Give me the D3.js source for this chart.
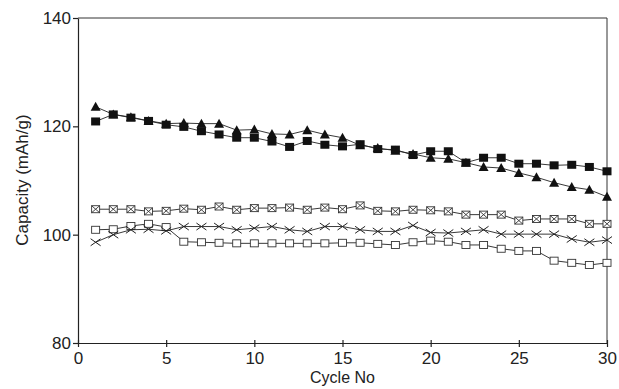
<!DOCTYPE html>
<meta charset="utf-8">
<style>
body { margin: 0; background: #fff; }
svg text { font-family: "Liberation Sans", Arial, sans-serif; fill: #222; }
.axis path, .axis line { stroke: #222; stroke-width: 1.2; }
</style>
<body>
<div id="chart"></div>
<script src="https://d3js.org/d3.v7.min.js"></script>
<script>
// cycle numbers 1..30
var cycles = [1,2,3,4,5,6,7,8,9,10,11,12,13,14,15,16,17,18,19,20,21,22,23,24,25,26,27,28,29,30]

var filledSquare = [120.9,122.2,121.6,121.0,120.3,119.9,119.1,118.5,117.9,117.9,117.2,116.2,117.3,116.6,116.3,116.7,115.8,115.7,114.7,115.4,115.4,113.3,114.2,114.2,113.1,113.1,112.8,112.9,112.5,111.7]
var filledTriangle = [123.6,122.2,121.7,121.0,120.5,120.6,120.5,120.5,119.3,119.4,118.6,118.5,119.3,118.5,117.9,116.5,116.0,115.5,114.9,114.2,114.0,113.3,112.5,112.3,111.4,110.6,109.6,108.8,108.3,107.0]
var bowtie = [104.7,104.7,104.7,104.3,104.4,104.8,104.6,105.2,104.6,104.9,104.9,105.0,104.6,105.0,104.7,105.4,104.4,104.3,104.6,104.5,104.3,103.7,103.7,103.7,102.6,102.9,102.9,102.9,102.0,102.0]
var cross = [98.6,100.0,100.9,101.0,100.7,101.5,101.5,101.5,100.9,101.2,101.5,100.9,100.6,101.5,101.5,100.9,100.6,100.6,101.7,100.4,100.3,100.6,100.9,100.1,100.1,100.1,100.1,99.2,98.6,99.0]
var openSquare = [100.9,101.0,101.6,102.0,101.4,98.7,98.6,98.5,98.4,98.4,98.4,98.4,98.4,98.4,98.5,98.5,98.3,98.1,98.6,98.9,98.7,98.1,98.1,97.4,97.0,97.0,95.2,94.8,94.4,94.8]

var xTicks = [0,5,10,15,20,25,30]
var yTicks = [80,100,120,140]

var series = [
    { name: 'openSquare', values: openSquare, marker: 'openSquare' },
    { name: 'cross', values: cross, marker: 'cross' },
    { name: 'bowtie', values: bowtie, marker: 'bowtie' },
    { name: 'filledTriangle', values: filledTriangle, marker: 'triangle' },
    { name: 'filledSquare', values: filledSquare, marker: 'square' }
]

var margin = { top: 18, right: 12, bottom: 46, left: 78 }
var width = 619 - margin.left - margin.right
var height = 389 - margin.top - margin.bottom

var svg = d3.select('#chart').append('svg')
    .attr('width', 619)
    .attr('height', 389)
var g = svg.append('g')
    .attr('transform', 'translate(' + margin.left + ',' + margin.top + ')')

var x = d3.scaleLinear().domain([0, 30]).range([0, width])
var y = d3.scaleLinear().domain([80, 140]).range([height, 0])

// frame top and right
g.append('line').attr('x1', 0).attr('x2', width).attr('y1', 0).attr('y2', 0)
    .style('stroke', '#333').style('stroke-width', 1)
g.append('line').attr('x1', width).attr('x2', width).attr('y1', 0).attr('y2', height)
    .style('stroke', '#333').style('stroke-width', 1)

var gx = g.append('g').attr('class', 'axis')
    .attr('transform', 'translate(0,' + height + ')')
    .call(d3.axisBottom(x).tickValues(xTicks).tickSize(4).tickSizeOuter(0).tickPadding(5))
gx.selectAll('.tick line').attr('y1', -3)
gx.selectAll('text').style('font-size', '17px')

var gy = g.append('g').attr('class', 'axis')
    .call(d3.axisLeft(y).tickValues(yTicks).tickSize(5).tickSizeOuter(0).tickPadding(2))
gy.selectAll('text').style('font-size', '17px')

g.append('text')
    .attr('x', width / 2)
    .attr('y', height + 40)
    .style('text-anchor', 'middle')
    .style('font-size', '16px')
    .text('Cycle No')

g.append('text')
    .attr('transform', 'rotate(-90)')
    .attr('x', -162)
    .attr('y', -50)
    .style('text-anchor', 'middle')
    .style('font-size', '17px')
    .text('Capacity (mAh/g)')

var line = d3.line()
    .x(function (d, i) { return x(cycles[i]) })
    .y(function (d) { return y(d) })

series.forEach(function (s) {
    g.append('path')
        .datum(s.values)
        .attr('d', line)
        .style('fill', 'none')
        .style('stroke', '#222')
        .style('stroke-width', 0.9)

    var pts = g.append('g').selectAll('g')
        .data(s.values)
        .enter().append('g')
        .attr('transform', function (d, i) { return 'translate(' + x(cycles[i]) + ',' + y(d) + ')' })

    if (s.marker === 'square') {
        pts.append('rect').attr('x', -4.5).attr('y', -4).attr('width', 9).attr('height', 8)
            .style('fill', '#111')
    } else if (s.marker === 'triangle') {
        pts.append('path').attr('d', 'M0,-5L5,4L-5,4Z').style('fill', '#111')
    } else if (s.marker === 'openSquare') {
        pts.append('rect').attr('x', -4).attr('y', -3.5).attr('width', 8).attr('height', 7)
            .style('fill', '#fff').style('stroke', '#333').style('stroke-width', 0.9)
    } else if (s.marker === 'bowtie') {
        pts.append('rect').attr('x', -4).attr('y', -3.5).attr('width', 8).attr('height', 7)
            .style('fill', '#fff').style('stroke', '#333').style('stroke-width', 0.9)
        pts.append('path').attr('d', 'M-4,-3.5L4,3.5M-4,3.5L4,-3.5')
            .style('stroke', '#333').style('stroke-width', 0.9)
    } else if (s.marker === 'cross') {
        pts.append('path').attr('d', 'M-5,-3.5L5,3.5M-5,3.5L5,-3.5')
            .style('stroke', '#222').style('stroke-width', 1)
    }
})
</script>
</body>
